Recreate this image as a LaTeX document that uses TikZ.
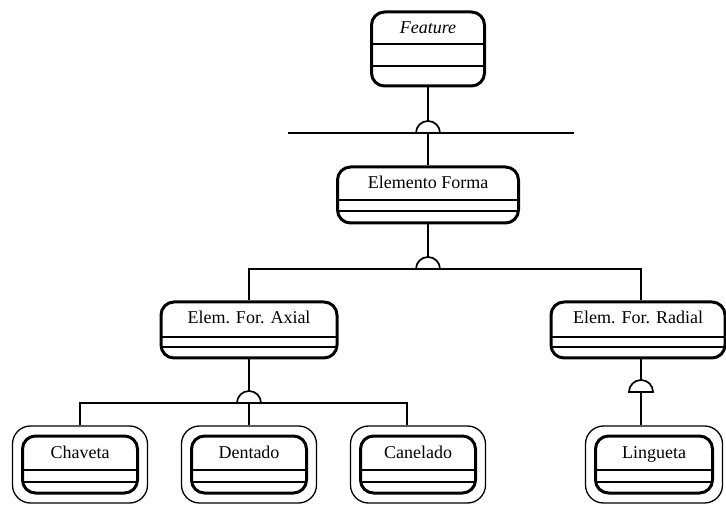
\documentclass[tikz,border=0pt]{standalone}
\usepackage{fontspec}
\setmainfont{Liberation Serif}
\usetikzlibrary{positioning, fit}

\begin{document}
\begin{tikzpicture}[x=1pt, y=1pt]
    % Styles
    \tikzset{
        classbox/.style={draw, line width=3pt, rounded corners=13pt, fill=white, inner xsep=0pt, inner ysep=0pt, text height=22pt, font=\fontsize{18}{20}\selectfont},
        compartments/.style 2 args={path picture={
            \draw[line width=1.6pt] ([yshift=-#1]path picture bounding box.north west) -- ([yshift=-#1]path picture bounding box.north east);
            \draw[line width=1.6pt] ([yshift=-#2]path picture bounding box.north west) -- ([yshift=-#2]path picture bounding box.north east);
        }},
        leafbox/.style={draw, line width=1.3pt, rounded corners=18pt, inner sep=8.5pt},
        conn/.style={line width=1.7pt},
        junc/.style={line width=1.7pt, fill=white}
    }

    \useasboundingbox (0,0) rectangle (726,504);

    % --- Classes ---

    % Root
    \node[classbox, minimum width=113pt, text depth=52pt, compartments={32pt}{54pt}] (feature) at (428,455) {\itshape Feature};

    % Second level
    \node[classbox, minimum width=181pt, text depth=34pt, compartments={33pt}{44pt}] (forma) at (428,309) {Elemento Forma};

    % Third level
    \node[classbox, minimum width=176pt, text depth=34pt, compartments={35pt}{45pt}] (axial) at (249,174) {Elem. For. Axial};
    \node[classbox, minimum width=174pt, text depth=34pt, compartments={35pt}{45pt}] (radial) at (638,174) {Elem. For. Radial};

    % Leaves (inner boxes)
    \node[classbox, minimum width=115pt, text depth=35pt, compartments={34pt}{46pt}] (chaveta) at (80,39.5) {Chaveta};
    \node[classbox, minimum width=115pt, text depth=35pt, compartments={34pt}{46pt}, right=51pt of chaveta] (dentado) {Dentado};
    \node[classbox, minimum width=115pt, text depth=35pt, compartments={34pt}{46pt}, right=51pt of dentado] (canelado) {Canelado};
    \node[classbox, minimum width=117pt, text depth=35pt, compartments={34pt}{46pt}] (lingueta) at (654,39.5) {Lingueta};

    % Leaves (outer frames)
    \node[leafbox, fit=(chaveta)] (chaveta_o) {};
    \node[leafbox, fit=(dentado)] (dentado_o) {};
    \node[leafbox, fit=(canelado)] (canelado_o) {};
    \node[leafbox, fit=(lingueta)] (lingueta_o) {};

    % --- Connections ---

    \coordinate (gen_l) at (288,371);
    \coordinate (gen_r) at (574,371);
    \coordinate (j1) at (428,371);
    \coordinate (j2) at (428,235);
    \coordinate (j3) at (249,101);
    \coordinate (j4) at (641,112);

    \draw[conn] (feature.south) -- (j1);
    \draw[conn] (gen_l) -- (gen_r);
    \draw[conn] (j1) -- (forma.north);

    \draw[conn] (forma.south) -- (j2);
    \draw[conn] (axial.north) |- (j2) -| ([xshift=3pt]radial.north);

    \draw[conn] (axial.south) -- (j3);
    \draw[conn] (chaveta_o.north) |- (j3) -| ([xshift=-11pt]canelado_o.north);
    \draw[conn] (j3) -- (dentado_o.north);

    \draw[conn] ([xshift=3pt]radial.south) -- (j4) -- ([xshift=-13pt]lingueta_o.north);

    % Half-circle markers on the joints
    \foreach \j in {j1, j2, j3, j4}
        \draw[junc] ([xshift=-12pt]\j) arc[start angle=180, end angle=0, radius=12pt] -- cycle;

\end{tikzpicture}
\end{document}
